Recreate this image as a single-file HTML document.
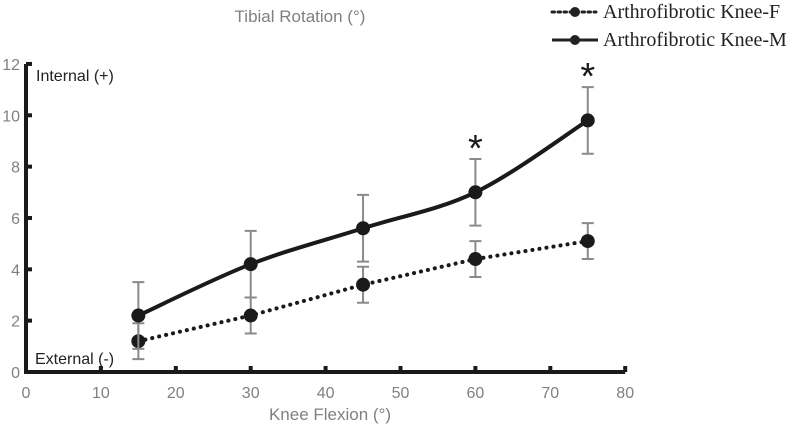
<!DOCTYPE html>
<html><head><meta charset="utf-8"><style>
body{margin:0;background:#fff;}
svg{display:block;}
.tk{font-family:"Liberation Sans",sans-serif;font-size:16px;fill:#808080;}
</style></head><body>
<svg id="chart" width="800" height="432">
<text x="300" y="22" text-anchor="middle" class="tk" style="font-size:17px">Tibial Rotation (°)</text>
<text x="330" y="420" text-anchor="middle" class="tk" style="font-size:17px">Knee Flexion (°)</text>
<g id="axes"></g>
<g id="marks"></g>
<text x="36" y="81" style="font-family:'Liberation Sans',sans-serif;font-size:16px;fill:#222">Internal (+)</text>
<text x="35" y="364" style="font-family:'Liberation Sans',sans-serif;font-size:16px;fill:#222">External (-)</text>
<g style="font-family:'Liberation Serif',serif;font-size:20px;fill:#222">
<line x1="552" y1="12" x2="596" y2="12" stroke="#222" stroke-width="3" stroke-dasharray="2.5 3.5" stroke-linecap="round"/>
<circle cx="575" cy="12" r="5" fill="#222"/>
<text x="603" y="18">Arthrofibrotic Knee-F</text>
<line x1="552" y1="40" x2="598" y2="40" stroke="#222" stroke-width="3"/>
<circle cx="575" cy="40" r="5" fill="#222"/>
<text x="603" y="46">Arthrofibrotic Knee-M</text>
</g>
</svg>
<script>
const xCats=[15,30,45,60,75];
const mVals=[2.2,4.2,5.6,7.0,9.8];
const mErr=[1.3,1.3,1.3,1.3,1.3];
const fVals=[1.2,2.2,3.4,4.4,5.1];
const fErr=[0.7,0.7,0.7,0.7,0.7];
const xTicks=[0,10,20,30,40,50,60,70,80];
const yTicks=[0,2,4,6,8,10,12];
const sigIdx=[3,4];
const NS="http://www.w3.org/2000/svg";
const X=v=>26+v*7.49;
const Y=v=>372-v*25.67;
function mk(tag,attrs,parent){const e=document.createElementNS(NS,tag);for(const k in attrs)e.setAttribute(k,attrs[k]);parent.appendChild(e);return e;}
const axes=document.getElementById('axes'),marks=document.getElementById('marks');
let a=mk('path',{d:`M${X(0)},${Y(12)}V${Y(0)}H${X(80)}`,fill:'none',stroke:'#1a1a1a','stroke-width':4},axes);


yTicks.forEach(t=>{
 const l=mk('line',{x1:X(0),x2:X(0)+6,y1:Y(t),y2:Y(t),stroke:'#1a1a1a','stroke-width':4},axes);
 
 
 const tx=mk('text',{x:20,y:Y(t)+6,'text-anchor':'end',class:'tk'},axes);tx.textContent=t;
 
 
});
xTicks.forEach(t=>{
 const l=mk('line',{x1:X(t),x2:X(t),y1:Y(0),y2:Y(0)-6,stroke:'#1a1a1a','stroke-width':4},axes);
 
 
 const tx=mk('text',{x:X(t),y:398,'text-anchor':'middle',class:'tk'},axes);tx.textContent=t;
 
 
});
function smooth(pts){let d=`M${pts[0][0]},${pts[0][1]}`;for(let i=0;i<pts.length-1;i++){const p0=pts[i-1]||pts[i],p1=pts[i],p2=pts[i+1],p3=pts[i+2]||p2;const c1=[p1[0]+(p2[0]-p0[0])/6,p1[1]+(p2[1]-p0[1])/6],c2=[p2[0]-(p3[0]-p1[0])/6,p2[1]-(p3[1]-p1[1])/6];d+=`C${c1[0]},${c1[1]} ${c2[0]},${c2[1]} ${p2[0]},${p2[1]}`;}return d;}
function series(vals,errs,dashed,name){
 vals.forEach((v,i)=>{const x=X(xCats[i]);
  const e=mk('path',{d:`M${x},${Y(v+errs[i])}V${Y(v-errs[i])}M${x-6},${Y(v+errs[i])}H${x+6}M${x-6},${Y(v-errs[i])}H${x+6}`,stroke:'#8a8a8a','stroke-width':2,fill:'none'},marks);
  
  
 });
 const pts=vals.map((v,i)=>[X(xCats[i]),Y(v)]);
 const attrs={d:dashed?('M'+pts.map(p=>p.join(',')).join('L')):smooth(pts),fill:'none',stroke:'#1a1a1a','stroke-width':dashed?3.5:4};
 if(dashed){attrs['stroke-dasharray']='0.1 7';attrs['stroke-linecap']='round';attrs['stroke-width']=4;}
 const ln=mk('path',attrs,marks);
 
 
 pts.forEach(p=>{const c=mk('circle',{cx:p[0],cy:p[1],r:7,fill:'#1a1a1a'},marks);
  
  });
}
series(fVals,fErr,true,'knee-f');
series(mVals,mErr,false,'knee-m');
sigIdx.forEach(i=>{const t=mk('text',{x:X(xCats[i]),y:Y(mVals[i]+mErr[i])+2,'text-anchor':'middle',style:'font-family:Liberation Sans,sans-serif;font-size:38px;fill:#1a1a1a'},marks);t.textContent='*';
 
 });
</script>
</body></html>
